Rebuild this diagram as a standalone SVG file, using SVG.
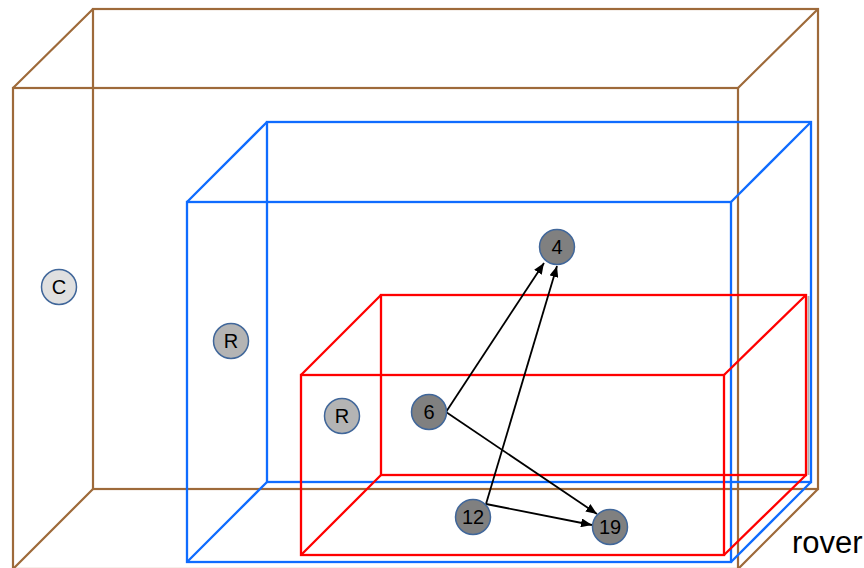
<svg xmlns="http://www.w3.org/2000/svg" width="864" height="568" viewBox="0 0 864 568">
<style>
.brown{fill:none;stroke:#9E6A3A;stroke-width:2.2}
.blue{fill:none;stroke:#0F6CFF;stroke-width:2.3}
.red{fill:none;stroke:#FF0000;stroke-width:2.3}
.node circle{stroke:#41679A;stroke-width:1.5}
.light{fill:#E0E0E0}
.mid{fill:#B4B4B4}
.dark{fill:#808080}
.lbl{font-family:"Liberation Sans",Arial,sans-serif;font-size:20px;fill:#000;text-anchor:middle}
.edge{stroke:#000;stroke-width:1.8;fill:none;marker-end:url(#ah)}
</style>
<defs>
<marker id="ah" markerUnits="userSpaceOnUse" markerWidth="11" markerHeight="9" refX="11" refY="4.5" orient="auto">
<path d="M0,0 L11,4.5 L0,9 z" fill="#000"/>
</marker>
</defs>
<rect width="864" height="568" fill="#fff"/>
<g id="box-brown" class="brown">
<rect x="13" y="88" width="725" height="481"/>
<rect x="93" y="9" width="725" height="480"/>
<path d="M13,88 L93,9 M738,88 L818,9 M738,569 L818,489 M13,569 L93,489"/>
</g>
<g id="box-blue" class="blue">
<rect x="267" y="122" width="544" height="360"/>
<rect x="187" y="202" width="544" height="360"/>
<path d="M187,202 L267,122 M731,202 L811,122 M731,562 L811,482 M187,562 L267,482"/>
</g>
<g id="box-red">
<line x1="808.5" y1="296" x2="808.5" y2="475" stroke="#B0B0B0" stroke-width="2"/>
<g class="red">
<rect x="381" y="295" width="425" height="180"/>
<rect x="301" y="375" width="423" height="180"/>
<path d="M301,375 L381,295 M724,375 L806,295 M724,555 L806,475 M301,555 L381,475"/>
</g>
</g>
<g id="connectors">
<line class="edge" x1="446" y1="412" x2="544" y2="263"/>
<line class="edge" x1="486" y1="504" x2="557" y2="266"/>
<line class="edge" x1="446" y1="412" x2="597" y2="514"/>
<line class="edge" x1="486" y1="504" x2="592" y2="525"/>
</g>
<g id="node-C" class="node"><circle class="light" cx="59" cy="287" r="17.5"/><text class="lbl" x="59" y="294">C</text></g>
<g id="node-R1" class="node"><circle class="mid" cx="231" cy="341" r="17.5"/><text class="lbl" x="231" y="348">R</text></g>
<g id="node-R2" class="node"><circle class="mid" cx="342" cy="416" r="17.5"/><text class="lbl" x="342" y="423">R</text></g>
<g id="node-4" class="node"><circle class="dark" cx="557" cy="247" r="17.5"/><text class="lbl" x="557" y="254">4</text></g>
<g id="node-6" class="node"><circle class="dark" cx="429" cy="412" r="17.5"/><text class="lbl" x="429" y="419">6</text></g>
<g id="node-12" class="node"><circle class="dark" cx="473" cy="517" r="17.5"/><text class="lbl" x="473" y="524">12</text></g>
<g id="node-19" class="node"><circle class="dark" cx="610" cy="527" r="17.5"/><text class="lbl" x="610" y="534">19</text></g>
<text id="label-rover" x="792" y="553" font-family="'Liberation Sans',Arial,sans-serif" font-size="31" fill="#000">rover</text>
</svg>
